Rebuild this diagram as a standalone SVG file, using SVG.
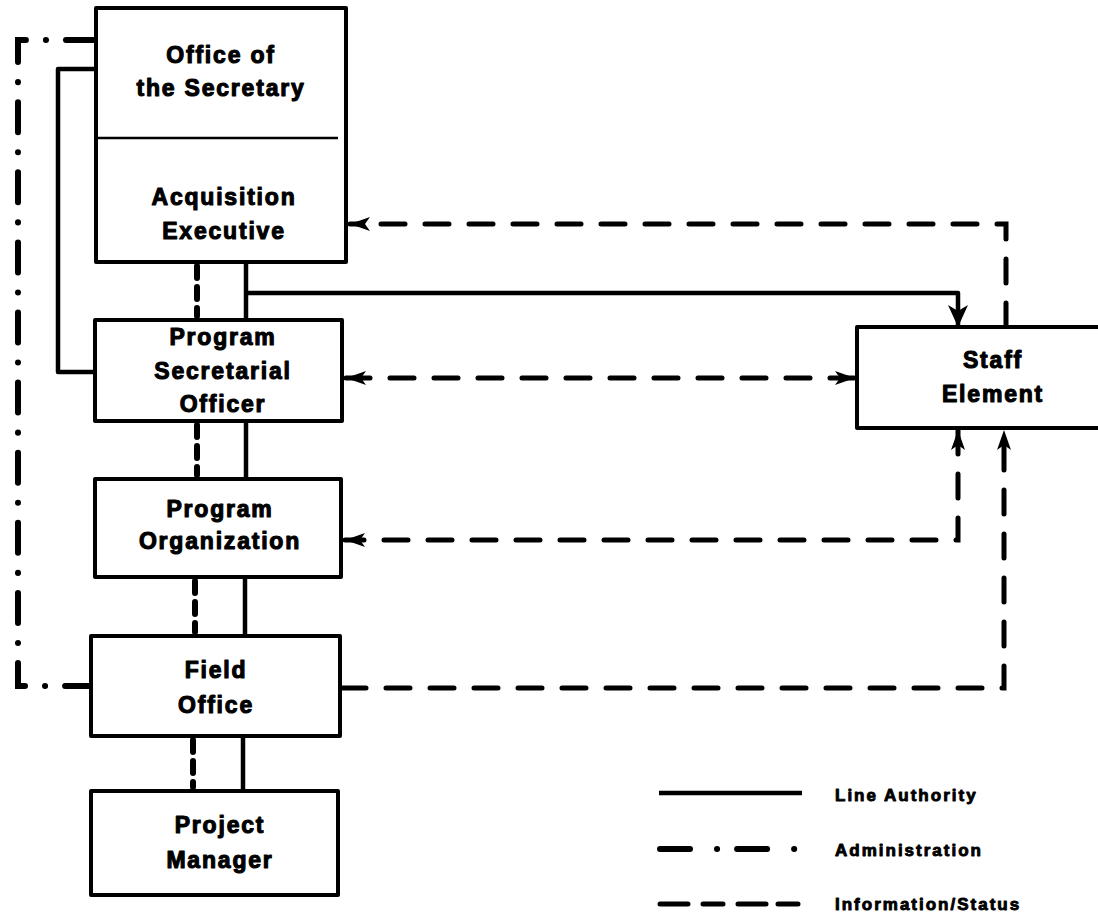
<svg xmlns="http://www.w3.org/2000/svg" width="1098" height="913" viewBox="0 0 1098 913">
  <style>
    .box { fill: #fff; stroke: #000; stroke-width: 4; stroke-linejoin: round; }
    .lbl { font-family: "Liberation Sans", Arial, sans-serif; font-weight: bold; font-size: 23px; letter-spacing: 1.8px; fill: #000; stroke: #000; stroke-width: 1.1; stroke-linejoin: round; text-anchor: middle; }
    .leg { font-family: "Liberation Sans", Arial, sans-serif; font-weight: bold; font-size: 17px; letter-spacing: 2px; fill: #000; stroke: #000; stroke-width: 0.9; stroke-linejoin: round; }
    .line { fill: none; stroke: #000; stroke-width: 4.5; stroke-linejoin: round; }
    .admin { fill: none; stroke: #000; stroke-width: 6; stroke-linecap: round; stroke-dasharray: 30 20 0.1 20; }
    .info { fill: none; stroke: #000; stroke-width: 5; stroke-linecap: round; stroke-dasharray: 24 20; }
    .short { fill: none; stroke: #000; stroke-width: 6; stroke-linecap: round; stroke-dasharray: 12 9; }
  </style>
  <defs>
    <marker id="arr" markerUnits="userSpaceOnUse" markerWidth="22" markerHeight="18" refX="20" refY="9" orient="auto-start-reverse">
      <path d="M0,2 L20,9 L0,16 L5,9 Z" fill="#000"/>
    </marker>
    <marker id="arrBig" markerUnits="userSpaceOnUse" markerWidth="24" markerHeight="22" refX="22" refY="11" orient="auto">
      <path d="M0,1 L22,11 L0,21 L6,11 Z" fill="#000"/>
    </marker>
  </defs>

  <!-- connectors -->
  <g id="connectors">
    <!-- administration loop from the Secretary to the field office -->
    <path class="admin" d="M96,40 H18 V686 H91"/>
    <!-- line authority from the Secretary to the secretarial officer -->
    <path class="line" d="M96,69 H58 V372 H95"/>
    <!-- line authority down the chain -->
    <path class="line" d="M246,262 V320"/>
    <path class="line" d="M246,421 V479"/>
    <path class="line" d="M245,577 V636"/>
    <path class="line" d="M243,736 V791"/>
    <!-- line authority to the staff element -->
    <path class="line" d="M246,293 H958 V327" marker-end="url(#arrBig)"/>
    <!-- information/status down the chain -->
    <path class="short" d="M197,266 V316"/>
    <path class="short" d="M197,425 V475"/>
    <path class="short" d="M195,581 V632"/>
    <path class="short" d="M193,740 V787"/>
    <!-- information/status with the staff element -->
    <path class="info" d="M1006,327 V224 H350" marker-end="url(#arr)"/>
    <path class="info" d="M346,378 H855" marker-start="url(#arr)" marker-end="url(#arr)"/>
    <path class="info" d="M958,430 V540 H345" marker-start="url(#arr)" marker-end="url(#arr)"/>
    <path class="info" d="M342,688 H1004 V430" marker-end="url(#arr)"/>
  </g>

  <!-- nodes -->
  <g id="secretary">
    <rect class="box" x="96" y="8" width="250" height="254"/>
    <line x1="98" y1="138" x2="338" y2="138" stroke="#000" stroke-width="2.5"/>
    <text class="lbl" x="221" y="63">Office of</text>
    <text class="lbl" x="221" y="96">the Secretary</text>
    <text class="lbl" x="224" y="205">Acquisition</text>
    <text class="lbl" x="224" y="239">Executive</text>
  </g>
  <g id="pso">
    <rect class="box" x="95" y="320" width="247" height="101"/>
    <text class="lbl" x="223" y="345">Program</text>
    <text class="lbl" x="223" y="379">Secretarial</text>
    <text class="lbl" x="223" y="412">Officer</text>
  </g>
  <g id="program-organization">
    <rect class="box" x="95" y="479" width="246" height="98"/>
    <text class="lbl" x="220" y="517">Program</text>
    <text class="lbl" x="220" y="549">Organization</text>
  </g>
  <g id="field-office">
    <rect class="box" x="91" y="636" width="249" height="100"/>
    <text class="lbl" x="216" y="678">Field</text>
    <text class="lbl" x="216" y="713">Office</text>
  </g>
  <g id="project-manager">
    <rect class="box" x="91" y="791" width="247" height="104"/>
    <text class="lbl" x="220" y="833">Project</text>
    <text class="lbl" x="220" y="868">Manager</text>
  </g>
  <g id="staff-element">
    <rect class="box" x="857" y="327" width="260" height="101"/>
    <text class="lbl" x="993" y="368">Staff</text>
    <text class="lbl" x="993" y="402">Element</text>
  </g>

  <!-- legend -->
  <g id="legend">
    <line class="line" x1="659" y1="793" x2="802" y2="793"/>
    <text class="leg" x="835" y="801">Line Authority</text>
    <path class="admin" d="M660,849 H803" style="stroke-dasharray: 30 27 0.1 20"/>
    <text class="leg" x="835" y="856">Administration</text>
    <path class="info" d="M660,904 H803" style="stroke-dasharray: 28 15 20 15 28 12 20"/>
    <text class="leg" x="835" y="910">Information/Status</text>
  </g>
</svg>
